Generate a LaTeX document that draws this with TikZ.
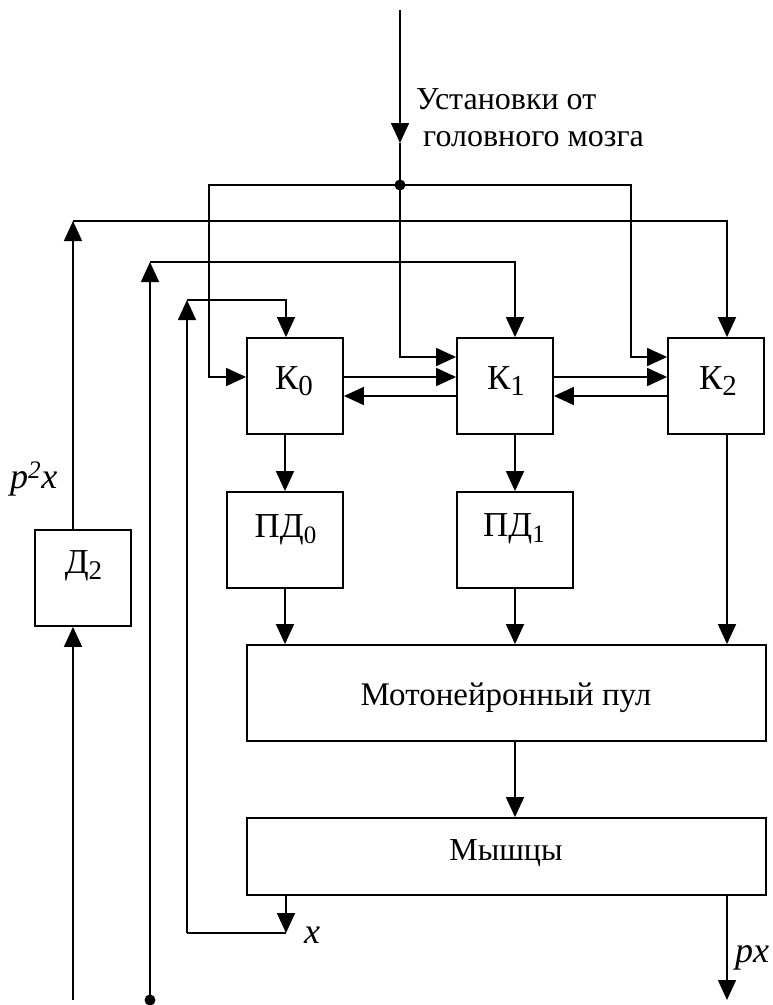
\documentclass[tikz,border=0pt]{standalone}
\usepackage{fontspec}
\setmainfont{Liberation Serif}
\usetikzlibrary{arrows.meta,calc}
\newcommand\lowsub[2]{\raisebox{-6pt}{\fontsize{#1}{#1}\selectfont #2}}
\begin{document}
\begin{tikzpicture}[x=1pt,y=-1pt,
  ln/.style={line width=1.6pt},
  arr/.style={line width=1.6pt,-{Triangle[length=20pt,width=18pt]}},
  box/.style={draw,line width=1.8pt,inner sep=0pt},
  lbl/.style={inner sep=0pt,font=\fontsize{35}{40}\selectfont},
  txt/.style={inner sep=0pt,font=\fontsize{32}{38}\selectfont},
  mlbl/.style={inner sep=0pt,font=\fontsize{36}{40}\selectfont\itshape}]
\useasboundingbox (0,0) rectangle (773,1005);

% boxes
\node[box,minimum width=96pt,minimum height=96pt] (K0) at (295,386) {};
\node[box,minimum width=96pt,minimum height=96pt] (K1) at (505,386) {};
\node[box,minimum width=96pt,minimum height=96pt] (K2) at (716,386) {};
\node[box,minimum width=116pt,minimum height=96pt] (PD0) at (285,540) {};
\node[box,minimum width=116pt,minimum height=96pt] (PD1) at (515,540) {};
\node[box,minimum width=96pt,minimum height=96pt] (D2) at (83,578) {};
\node[box,minimum width=519pt,minimum height=96pt] (pool) at (506.5,693) {};
\node[box,minimum width=519pt,minimum height=77pt] (mus) at (506.5,856.5) {};

% box labels
\node[lbl,anchor=base] (tK0) at (294,389) {К\lowsub{29}{0}};
\node[lbl,anchor=base] (tK1) at (506,389) {К\lowsub{29}{1}};
\node[lbl,anchor=base] (tK2) at (718,389) {К\lowsub{29}{2}};
\node[lbl,anchor=base] (tPD0) at (285.5,537) {ПД\lowsub{25}{0}};
\node[lbl,anchor=base] (tPD1) at (514,536) {ПД\lowsub{25}{1}};
\node[lbl,anchor=base] (tD2) at (83.5,573) {Д\lowsub{27}{2}};
\node[txt,anchor=base,font=\fontsize{33}{38}\selectfont] (tpool) at (506,705) {Мотонейронный пул};
\node[txt,anchor=base] (tmus) at (506,860) {Мышцы};

% top input
\coordinate (top) at (400,10);
\coordinate (tipT) at (400,143);
\coordinate (junc) at (400,185);
\draw[arr] (top) -- (tipT);
\draw[ln] (tipT) -- (junc);
\fill (junc) circle[radius=5.5pt];
\node[txt,anchor=base west] (ust1) at (416,109) {Установки от};
\node[txt,anchor=base west] (ust2) at (423,146) {головного мозга};

\coordinate (jl) at (209,185);
\coordinate (jr) at (631,185);
\draw[arr] (junc) -- (jl) |- ([yshift=9pt]K0.west);
\draw[arr] (junc) |- ([yshift=29pt]K1.west);
\draw[arr] (junc) -- (jr) |- ([yshift=29pt]K2.west);

% K interconnections
\draw[arr] ([yshift=9pt]K0.east) -- ([yshift=9pt]K1.west);
\draw[arr] ([yshift=9pt]K1.east) -- ([yshift=9pt]K2.west);
\draw[arr] ([yshift=-10pt]K1.west) -- ([yshift=-10pt]K0.east);
\draw[arr] ([yshift=-10pt]K2.west) -- ([yshift=-10pt]K1.east);

% verticals
\coordinate (xK2) at (727,221);
\draw[arr] (PD0.north |- K0.south) -- (PD0.north);
\draw[arr] (PD0.south) -- (PD0.south |- pool.north);
\draw[arr] (PD1.north |- K1.south) -- (PD1.north);
\draw[arr] (PD1.south) -- (PD1.south |- pool.north);
\draw[arr] (xK2 |- K2.south) -- (xK2 |- pool.north);
\draw[arr] (PD1.south |- pool.south) -- (PD1.south |- mus.north);

% loop A (p^2 x)
\coordinate (Abot) at (73,1000);
\coordinate (Acorner) at (73,221);
\draw[arr] (Abot) -- (Abot |- D2.south);
\draw[arr] (Abot |- D2.north) -- (Acorner);
\draw[arr] (Acorner) -| (xK2 |- K2.north);
\node[mlbl,anchor=base west] (lp2x) at (10,488) {p\textsuperscript{2}x};

% loop B
\coordinate (Bdot) at (150,1000);
\coordinate (Bcorner) at (150,262);
\fill (Bdot) circle[radius=5.5pt];
\draw[arr] (Bdot) -- (Bcorner);
\draw[arr] (Bcorner) -| (PD1.north |- K1.north);

% loop C (x)
\coordinate (xtip) at (286,933);
\coordinate (Cbot) at (187,933);
\coordinate (Ccorner) at (187,300);
\draw[arr] (xtip |- mus.south) -- (xtip);
\draw[ln] (xtip) -- (Cbot);
\draw[arr] (Cbot) -- (Ccorner);
\draw[arr] (Ccorner) -| (xtip |- K0.north);
\node[mlbl,anchor=base west] (lx) at (304,943) {x};

% output px
\coordinate (pxend) at (727,1000);
\draw[arr] (xK2 |- mus.south) -- (pxend);
\node[mlbl,anchor=base west] (lpx) at (735,962) {px};
\end{tikzpicture}
\end{document}
